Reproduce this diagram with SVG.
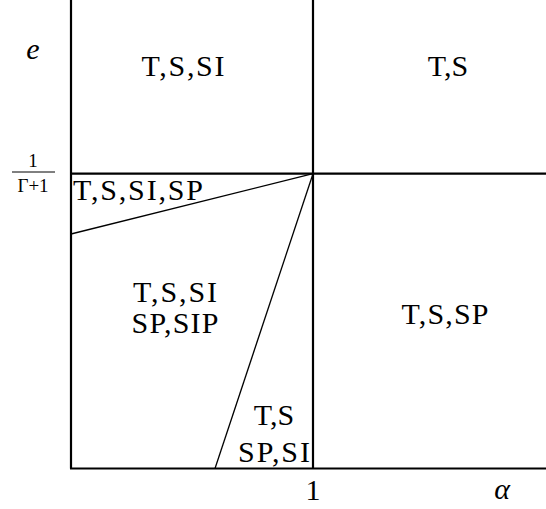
<svg xmlns="http://www.w3.org/2000/svg" width="546" height="509" viewBox="0 0 546 509">
<style>
.axis{stroke:#000;stroke-width:2.2;fill:none}
.div{stroke:#000;stroke-width:1.3;fill:none}
text{font-family:'Liberation Serif','DejaVu Serif','Times New Roman',serif;font-size:30px;fill:#000;text-anchor:middle}
.it{font-style:italic}
.sm{font-size:19px}
</style>
<rect width="546" height="509" fill="#fff"/>
<g id="connectors">
<line class="axis" x1="71" y1="0" x2="71" y2="468.5"/>
<line class="axis" x1="313" y1="0" x2="313" y2="468.5"/>
<line class="axis" x1="70" y1="173.7" x2="546" y2="173.7"/>
<line class="axis" x1="70" y1="468.5" x2="546" y2="468.5"/>
<line class="div" x1="313" y1="173.7" x2="71" y2="234"/>
<line class="div" x1="313" y1="173.7" x2="215" y2="468.5"/>
</g>
<g id="axis-e"><text class="it" x="33" y="59">e</text></g>
<g id="axis-frac">
<text class="sm" x="33" y="167">1</text>
<line x1="12" y1="172" x2="55" y2="172" stroke="#000" stroke-width="1"/>
<text class="sm" x="33" y="192">Γ+1</text>
</g>
<g id="axis-1"><text x="313" y="500">1</text></g>
<g id="axis-alpha"><text class="it" x="502" y="499">α</text></g>
<g id="r1"><text x="183" y="76" textLength="83">T,S,SI</text></g>
<g id="r2"><text x="448" y="76">T,S</text></g>
<g id="r3"><text x="138" y="200" textLength="130">T,S,SI,SP</text></g>
<g id="r4"><text x="175" y="302" textLength="84">T,S,SI</text><text x="175" y="333" textLength="87">SP,SIP</text></g>
<g id="r5"><text x="445" y="324" textLength="87">T,S,SP</text></g>
<g id="r6"><text x="274" y="425">T,S</text><text x="274" y="462" textLength="72">SP,SI</text></g>
</svg>
